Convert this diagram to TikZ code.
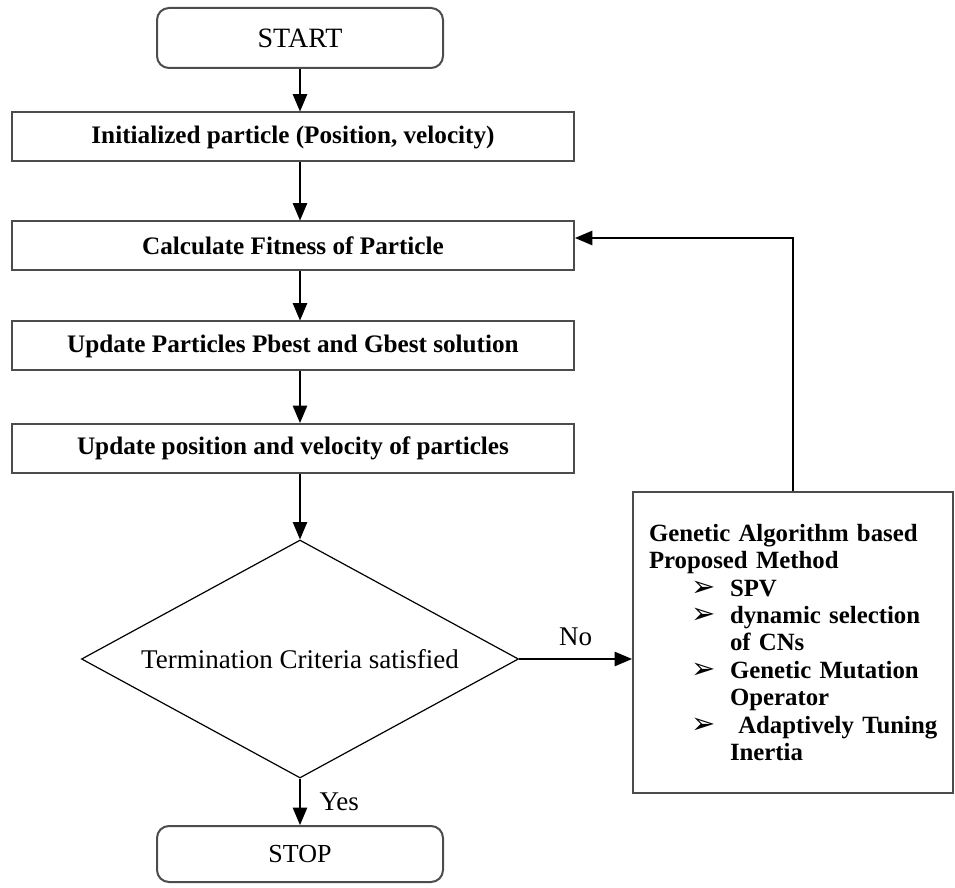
\documentclass[tikz,border=0pt]{standalone}
\usepackage{fontspec}
\setmainfont{Liberation Serif}
\newfontfamily\symfont{DejaVu Sans}
\usetikzlibrary{shapes.geometric,arrows,positioning}
\tikzset{
 flowbox/.style={draw=black!70,line width=1pt,minimum width=281pt,minimum height=24.5pt,inner sep=0pt,font=\fontsize{12.6}{14}\selectfont\bfseries},
 endbox/.style={flowbox,rounded corners=6pt,minimum width=143pt,minimum height=30pt,font=\fontsize{13}{14}\selectfont},
 flowline/.style={line width=1pt,-triangle 45},
}
\newcommand{\tipbullet}{{\symfont\fontsize{14.5}{12}\selectfont ➢}}
\newcommand{\gaitem}[1]{\mbox{\hspace*{21pt}\makebox[19.5pt][l]{\tipbullet}#1}}
\newcommand{\gacont}[1]{\mbox{\hspace*{40.5pt}#1}}

\begin{document}
\begin{tikzpicture}[x=0.5pt,y=-0.5pt,font=\fontsize{13.5}{15}\selectfont]
\useasboundingbox (0,0) rectangle (955,888);
%main column
\node[endbox,font=\fontsize{14}{15}\selectfont] (start) at (300,38) {START};
\node[flowbox] (init) at (293,137) {Initialized particle (Position, velocity)};
\node[flowbox] (calc) at (293,246) {Calculate Fitness of Particle};
\node[flowbox] (best) at (293,346) {Update Particles Pbest and Gbest solution};
\node[flowbox] (upd) at (293,448.5) {Update position and velocity of particles};
\node[draw,shape=diamond,line width=0.6pt,inner sep=0pt,aspect=2,minimum width=218.5pt,minimum height=119pt,font=\fontsize{13.5}{15}\selectfont] (check) at (300,659) {Termination Criteria satisfied};
\node[endbox,minimum height=28pt] (stop) at (300,854) {STOP};
%genetic algorithm box
\node[draw=black!70,line width=1pt,minimum width=160pt,minimum height=150.5pt,text width=144pt,inner xsep=8pt,align=left,font=\fontsize{12.4}{13.7}\selectfont\bfseries] (gam) at (793,642.5) {\mbox{Genetic Algorithm based}\\
\mbox{Proposed Method}\\
\gaitem{SPV}\\
\gaitem{dynamic selection}\\
\gacont{of CNs}\\
\gaitem{Genetic Mutation}\\
\gacont{Operator}\\
\gaitem{\ Adaptively Tuning}\\
\gacont{Inertia}};
%arrows
\draw[flowline] (start) -- (start |- init.north);
\draw[flowline] (start |- init.south) -- (start |- calc.north);
\draw[flowline] (start |- calc.south) -- (start |- best.north);
\draw[flowline] (start |- best.south) -- (start |- upd.north);
\draw[flowline] (start |- upd.south) -- (check.north);
\draw[flowline] (check.south) -- node[right=6pt] {Yes} (stop.north);
\draw[flowline] (check.east) -- node[above=3pt] {No} (check.east -| gam.west);
\draw[flowline] (gam.north) |- ([yshift=4pt]calc.east);
\end{tikzpicture}
\end{document}
